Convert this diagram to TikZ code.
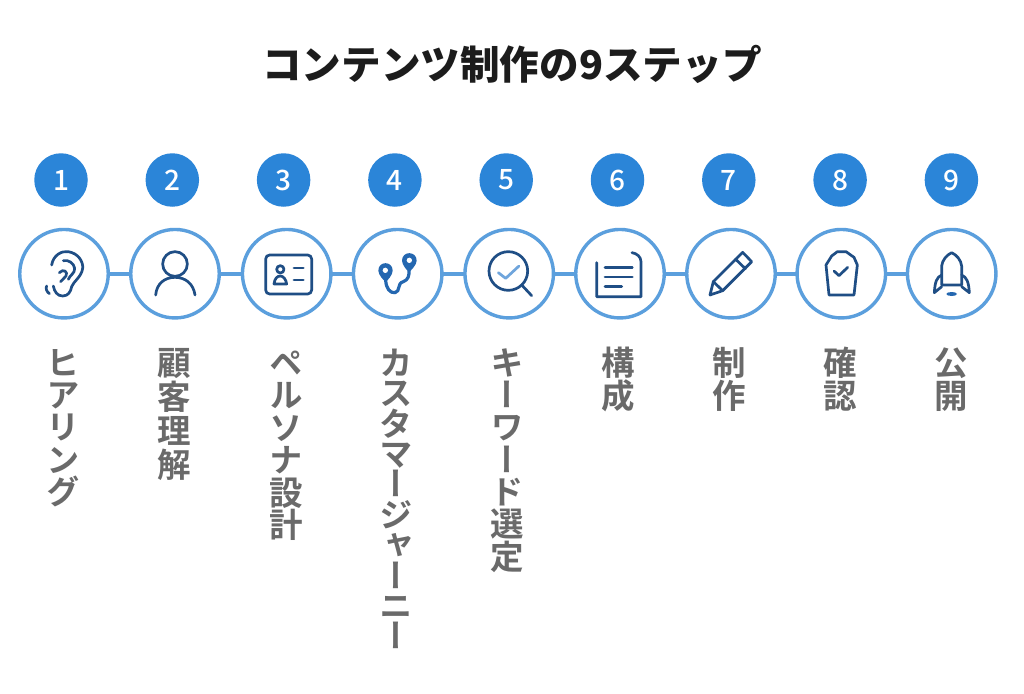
\documentclass[tikz,border=0pt]{standalone}
\usepackage{fontspec}
\newfontfamily\jpfont{Noto Sans CJK JP}
\newfontfamily\jpmed{Noto Sans CJK JP Medium}
\newfontfamily\jpvert[RawFeature=+vert]{Noto Sans CJK JP Bold}
\definecolor{badge}{HTML}{2B85D8}
\definecolor{ringc}{HTML}{5B9FDD}
\definecolor{icond}{HTML}{1F4E85}
\definecolor{iconm}{HTML}{2467B0}
\definecolor{iconl}{HTML}{6FA5DC}
\definecolor{labelc}{HTML}{6A6A6A}
\definecolor{titlec}{HTML}{1C1C1C}
\newcommand{\firstline}{\rule{0pt}{29pt}}
\tikzset{
  titletext/.style={font=\jpfont\bfseries\fontsize{39.6}{44}\selectfont,text=titlec,inner sep=0pt},
  badgenode/.style={circle,fill=badge,draw=none,minimum size=53.5pt,inner sep=0pt,text=white,font=\jpmed\fontsize{28}{30}\selectfont},
  ringnode/.style={circle,draw=ringc,line width=3.4pt,fill=white,minimum size=88.5pt,inner sep=0pt},
  linkline/.style={draw=ringc,line width=3.8pt},
  steplabel/.style={anchor=north,inner sep=0pt,align=center,text=labelc,font=\jpvert\fontsize{33.5}{#1}\selectfont},
  steplabel/.default=32.3,
  icon/.style={draw=icond,line width=2.7pt,line cap=round,line join=round},
  iconmid/.style={draw=iconm,line width=3.2pt,line cap=round,line join=round},
  iconlight/.style={draw=iconl,line width=2.7pt,line cap=round,line join=round}
}
\begin{document}
\begin{tikzpicture}[x=1pt,y=-1pt]
\useasboundingbox[fill=white] (0,0) rectangle (1024,693);
\node[titletext] (title) at (512,64) {コンテンツ制作の9ステップ};
\foreach \i/\rx in {1/64,2/175,3/286.7,4/397.7,5/509.2,6/620,7/731,8/841.3,9/951.7}{
  \node[badgenode] (b\i) at ({61+111.3*(\i-1)},180) {\i};
  \coordinate (rc\i) at (\rx,273.7);
}
\foreach \i/\j in {1/2,2/3,3/4,4/5,5/6,6/7,7/8,8/9}{
  \draw[linkline] (rc\i) -- (rc\j);
}
\foreach \i in {1,...,9}{
  \node[ringnode] (r\i) at (rc\i) {};
}
\node[steplabel=32.3] (l1) at (63,346) {\firstline ヒ\\ア\\リ\\ン\\グ};
\node[steplabel=34] (l2) at (174.5,346) {\firstline 顧\\客\\理\\解};
\node[steplabel=32.5] (l3) at (286,346) {\firstline ペ\\ル\\ソ\\ナ\\設\\計};
\node[steplabel=30.4] (l4) at (396,346) {\firstline カ\\ス\\タ\\マ\\ー\\ジ\\ャ\\ー\\ニ\\ー};
\node[steplabel=32.3] (l5) at (507.5,346) {\firstline キ\\ー\\ワ\\ー\\ド\\選\\定};
\node[steplabel=33] (l6) at (618,346) {\firstline 構\\成};
\node[steplabel=33] (l7) at (729,346) {\firstline 制\\作};
\node[steplabel=33] (l8) at (840,346) {\firstline 確\\認};
\node[steplabel=33] (l9) at (951,346) {\firstline 公\\開};
% icons 1-3
\begin{scope}[shift={(0,140)},x=.33333pt,y=-.33333pt]
  \draw[icon] (155,375) .. controls (160,345) and (185,332) .. (205,335) .. controls (235,340) and (250,365) .. (248,385) .. controls (245,410) and (220,425) .. (215,440) .. controls (212,455) and (205,468) .. (188,468) .. controls (172,468) and (163,455) .. (160,438);
  \draw[icon] (178,398) .. controls (190,385) and (205,395) .. (198,408) .. controls (195,415) and (185,418) .. (182,425);
  \draw[icon] (190,362) .. controls (205,358) and (222,370) .. (224,385) .. controls (225,400) and (210,405) .. (205,418);
  \draw[icon] (140,438) .. controls (136,445) and (140,455) .. (148,461);
  \draw[icon] (525,372) circle[radius=37];
  \draw[icon] (467,465) .. controls (470,430) and (495,412) .. (525,412) .. controls (555,412) and (580,430) .. (585,465);
  \draw[icon,rounded corners=4pt] (797,345) rectangle (935,462);
  \draw[icon] (841,388) circle[radius=11];
  \draw[icon] (822,432) .. controls (824,415) and (832,408) .. (841,408) .. controls (850,408) and (858,418) .. (860,432) -- cycle;
  \draw[icon] (882,384) -- (910,384) (882,420) -- (910,420);
\end{scope}
% icons 4-6
\begin{scope}[shift={(340,140)},x=.33333pt,y=-.33333pt]
  \draw[iconmid] (137,420) .. controls (138,445) and (150,460) .. (165,458) .. controls (182,455) and (170,430) .. (190,425) .. controls (205,420) and (208,405) .. (207,392);
  \fill[iconm] (115,392) .. controls (115,362) and (158,362) .. (158,392) .. controls (158,405) and (142,422) .. (137,426) .. controls (132,422) and (115,405) .. cycle;
  \fill[iconm] (186,362) .. controls (186,332) and (230,332) .. (230,362) .. controls (230,375) and (212,392) .. (207,397) .. controls (202,392) and (186,375) .. cycle;
  \fill[white] (136,391) circle[radius=8] (208,361) circle[radius=8];
  \draw[icon] (505,393) circle[radius=58];
  \draw[icon] (548,438) -- (575,467);
  \draw[iconlight] (475,398) -- (497,415) -- (537,378);
  \draw[icon] (876,338) .. controls (890,340) and (903,350) .. (903,365) -- (903,470) -- (770,470) -- (770,368);
  \draw[icon] (795,383) -- (877,383) (795,411) -- (877,411) (795,439) -- (845,439);
\end{scope}
% icons 7-9
\begin{scope}[shift={(680,140)},x=.33333pt,y=-.33333pt]
  \draw[icon] (90,465) -- (100,425) -- (188,337) -- (215,365) -- (128,452) -- cycle;
  \draw[icon] (167,358) -- (196,386) (100,425) -- (128,452);
  \draw[icon] (455,348) -- (472,335) -- (498,335) -- (522,352) -- (532,375) -- (522,465) -- (447,465) -- (438,375) -- cycle;
  \draw[icon] (462,393) -- (477,407) -- (503,382);
  \draw[icon] (785,435) -- (785,378) .. controls (787,360) and (800,345) .. (815,338) .. controls (830,345) and (843,360) .. (845,378) -- (845,435) -- cycle;
  \draw[icon] (785,405) .. controls (770,412) and (765,425) .. (763,458) -- (785,440);
  \draw[icon] (845,405) .. controls (860,412) and (866,425) .. (868,458) -- (845,440);
  \fill[iconm] (815,462) ellipse[x radius=16,y radius=6];
\end{scope}
\end{tikzpicture}
\end{document}
